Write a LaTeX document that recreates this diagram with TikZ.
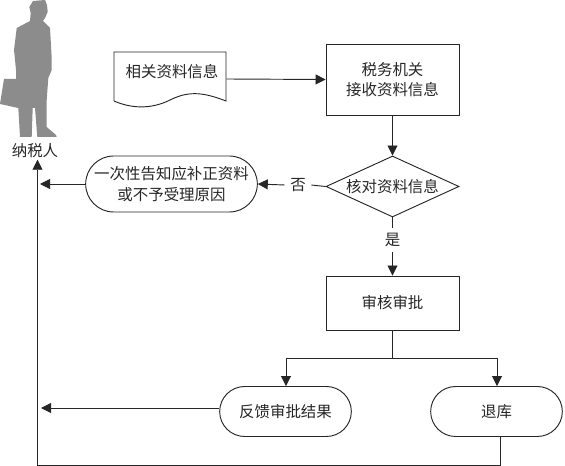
\documentclass[tikz,border=0pt]{standalone}
\usepackage{fontspec}
\newfontfamily\cjk{Noto Sans CJK SC}
\usepackage{tikz}
\usetikzlibrary{arrows.meta, positioning, shapes.geometric, shapes.misc}

\begin{document}
\begin{tikzpicture}[
        x=0.75pt, y=-0.75pt,
        every node/.style={font=\cjk\fontsize{11.6}{15.5}\selectfont, text=black!85},
        box/.style={rectangle, draw=black!85, line width=0.7pt, minimum width=99.75pt, align=center},
        terminal/.style={rounded rectangle, draw=black!85, line width=0.7pt, minimum height=#1, align=center, inner sep=2pt},
        decision/.style={diamond, draw=black!85, line width=0.7pt, aspect=2.18, minimum width=99.75pt, minimum height=45.75pt, inner sep=0pt},
        word/.style={inner sep=4pt},
        arrow/.style={-{Triangle[length=7.5pt, width=7.5pt]}, draw=black!85, line width=0.7pt},
        line/.style={draw=black!85, line width=0.7pt}
    ]
        \useasboundingbox (0,0) rectangle (565,466);

        % Taxpayer
        \fill[black!45] (33,1) -- (45,0) -- (47,5) -- (47.7,12) -- (45,18) -- (43,21) -- (50,28) -- (50.7,40)
            -- (51.7,58) -- (51.7,70) -- (48.3,78) -- (46.7,100) -- (46.7,127) -- (56,135) -- (56.7,137)
            -- (37.3,137) -- (35,108) -- (32.7,108) -- (31.7,137) -- (20,137) -- (18.3,108) -- (0,104)
            -- (4,79) -- (16,79) -- (16,70) -- (14,50) -- (16.7,28) -- (30,21) -- (30.7,13) -- (29.3,7) -- cycle;
        \node[inner sep=1pt] (taxpayer) at (35,151) {纳税人};

        % Document
        \node[minimum width=84pt, minimum height=40.5pt, inner sep=0pt] (docinfo) at (170,79) {};
        \draw[line] (114,101) -- (114,52) -- (226,52) -- (226,101)
            .. controls (205,93) and (190,90) .. (170,100)
            .. controls (150,110) and (130,108) .. (114,101);
        \node (doclabel) at (172,72) {相关资料信息};

        % Main column
        \node[box, minimum height=53.25pt] (receive) at (392.5,79.5) {税务机关\\接收资料信息};
        \node[decision] (check) at (392.5,186.5) {核对资料信息};
        \node[box, minimum height=40.5pt] (review) at (392.5,303) {审核审批};

        % Terminals
        \node[terminal=42pt, minimum width=132.75pt] (notice) at (171.5,184) {一次性告知应补正资料\\或不予受理原因};
        \node[terminal=37.5pt, minimum width=102.75pt] (feedback) at (285.5,411.5) {反馈审批结果};
        \node[terminal=37.5pt, minimum width=102.75pt] (stock) at (496.5,411.5) {退库};

        % Branch words
        \node[word] (no) at (298,185) {否};
        \node[word] (yes) at (392.5,240) {是};

        % Free ends
        \coordinate (fork) at (392.5,358);
        \coordinate (forkleft) at (286,358);
        \coordinate (forkright) at (497,358);
        \coordinate (noticeend) at (40,184);
        \coordinate (feedbackend) at (41,408);
        \coordinate (stockdown) at (500,465);
        \coordinate (corner) at (37.5,465);

        % Connectors
        \draw[arrow] (docinfo.east) -- (receive.west);
        \draw[arrow] (receive.south) -- (check.north);
        \draw[line] (check.west) -- (no.east);
        \draw[arrow] (no.west) -- (notice.east);
        \draw[line] (check.south) -- (yes.north);
        \draw[arrow] (yes.south) -- (review.north);
        \draw[arrow] (notice.west) -- (noticeend);
        \draw[line] (review.south) -- (fork);
        \draw[arrow] (fork) -- (forkleft) -- (forkleft |- feedback.north);
        \draw[arrow] (fork) -- (forkright) -- (forkright |- stock.north);
        \draw[arrow] (feedback.west |- feedbackend) -- (feedbackend);
        \draw[arrow] (stockdown |- stock.south) -- (stockdown) -- (corner) -- (corner |- taxpayer.south);
    \end{tikzpicture}
\end{document}
